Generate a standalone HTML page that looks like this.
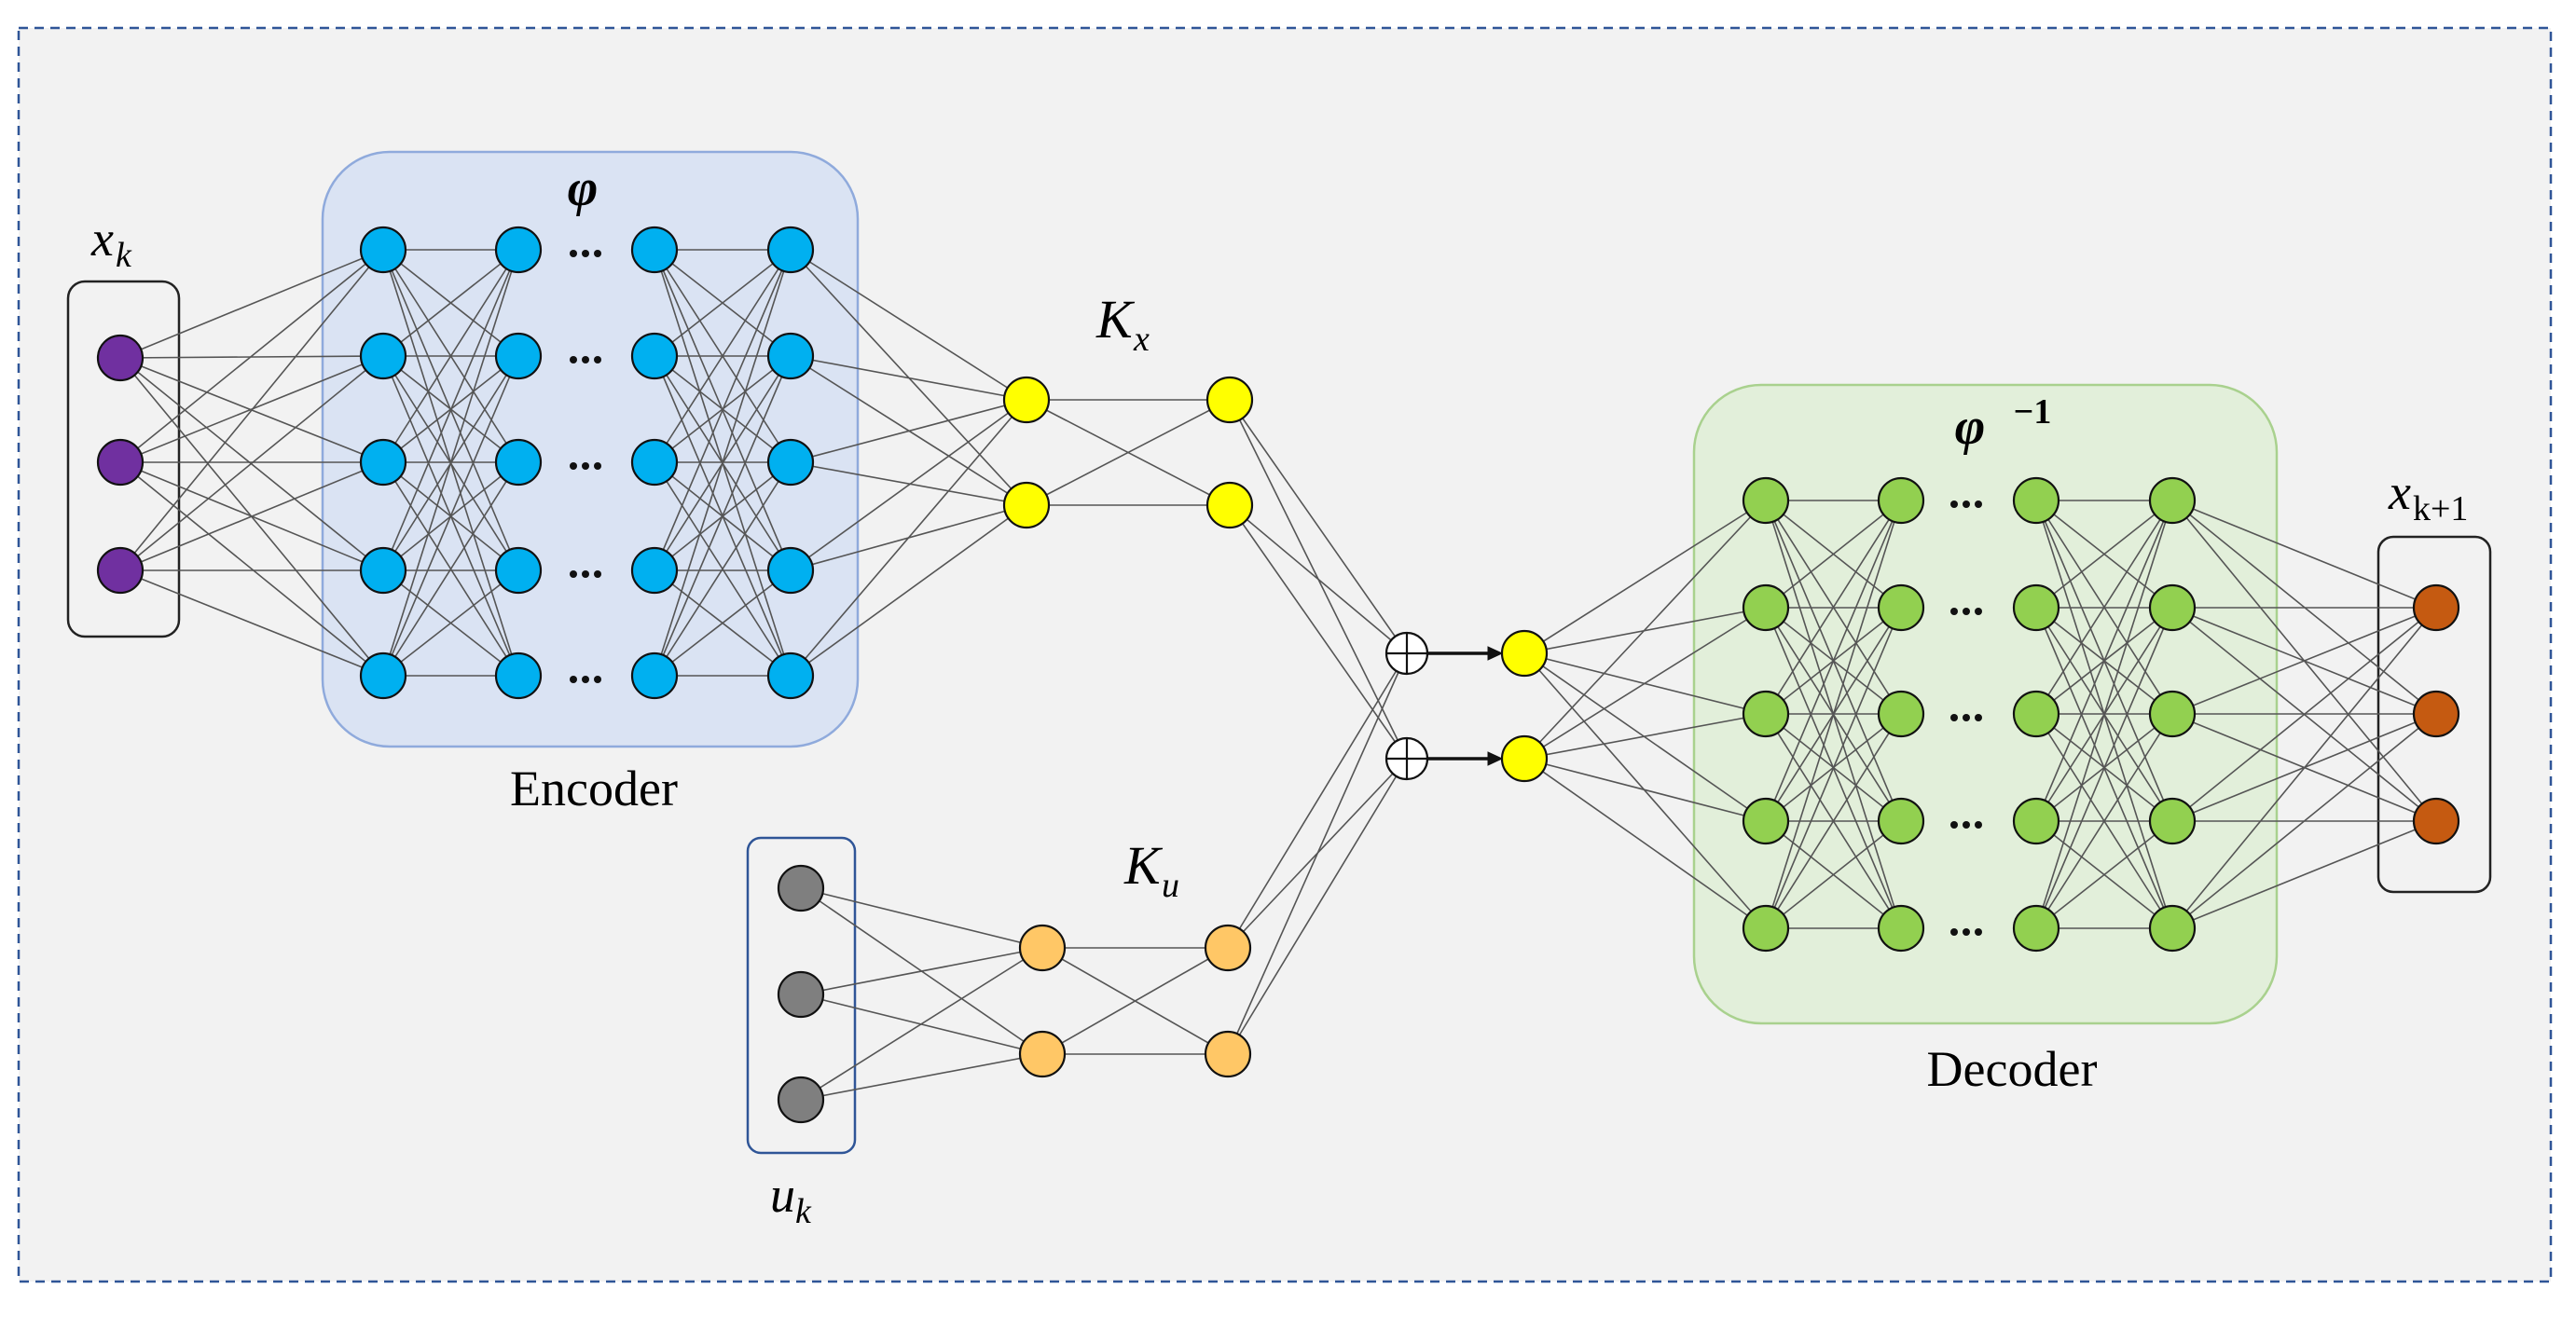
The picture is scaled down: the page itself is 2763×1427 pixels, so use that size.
<!DOCTYPE html>
<html><head><meta charset="utf-8"><style>
html,body{margin:0;padding:0;background:#fff;}
svg{display:block;}
text{font-family:"Liberation Serif",serif;fill:#000;}
</style></head><body>
<svg id="s" width="2763" height="1427" viewBox="0 0 2763 1427" xmlns="http://www.w3.org/2000/svg">
<rect x="20" y="30" width="2716" height="1345" fill="#f2f2f2" stroke="#2f5597" stroke-width="2.5" stroke-dasharray="10,7"/>
<rect x="346" y="163" width="574" height="638" rx="72" fill="#dae3f3" stroke="#8faadc" stroke-width="2.5"/>
<rect x="1817" y="413" width="625" height="685" rx="72" fill="#e2efda" stroke="#a9d18e" stroke-width="2.5"/>
<rect x="73" y="302" width="119" height="381" rx="18" fill="none" stroke="#222" stroke-width="2.5"/>
<rect x="802" y="899" width="115" height="338" rx="14" fill="none" stroke="#2f5597" stroke-width="2.5"/>
<rect x="2551" y="576" width="120" height="381" rx="16" fill="none" stroke="#222" stroke-width="2.5"/>
<g id="lines" stroke="#555" stroke-width="1.6"></g>
<g id="nodes" stroke="#111" stroke-width="2.2"></g>
<text x="625" y="220" font-size="56" font-weight="bold" font-style="italic" text-anchor="middle">φ</text>
<text x="2113" y="476" font-size="56" font-weight="bold" font-style="italic" text-anchor="middle">φ</text>
<text x="2180" y="454" font-size="38" font-weight="bold" text-anchor="middle">−1</text>
<text x="98" y="274" font-size="54" font-style="italic">x</text><text x="124" y="286" font-size="38" font-style="italic">k</text>
<text x="2562" y="546" font-size="54" font-style="italic">x</text><text x="2588" y="558" font-size="38">k+1</text>
<text x="826" y="1300" font-size="54" font-style="italic">u</text><text x="853" y="1312" font-size="38" font-style="italic">k</text>
<text x="1176" y="362" font-size="58" font-style="italic">K</text><text x="1216" y="376" font-size="38" font-style="italic">x</text>
<text x="1206" y="948" font-size="58" font-style="italic">K</text><text x="1246" y="962" font-size="38" font-style="italic">u</text>
<text x="637" y="864" font-size="54" text-anchor="middle">Encoder</text>
<text x="2158" y="1165" font-size="54" text-anchor="middle">Decoder</text>
</svg>
<script>
var NS="http://www.w3.org/2000/svg",L=document.getElementById('lines'),N=document.getElementById('nodes');
function el(p,t,a){var e=document.createElementNS(NS,t);for(var k in a)e.setAttribute(k,a[k]);p.appendChild(e);return e;}
function col(x,ys){return ys.map(function(y){return [x,y];});}
function full(A,B){A.forEach(function(a){B.forEach(function(b){el(L,'line',{x1:a[0],y1:a[1],x2:b[0],y2:b[1]});});});}
function nodes(A,c,r){A.forEach(function(a){el(N,'circle',{cx:a[0],cy:a[1],r:r||24,fill:c});});}
var eR=[268,382,496,612,725],dR=[537,652,766,881,996];
var xk=col(129,[384,496,612]);
var e1=col(411,eR),e2=col(556,eR),e3=col(702,eR),e4=col(848,eR);
var k1=col(1101,[429,542]),k2=col(1319,[429,542]);
var uk=col(859,[953,1067,1180]);
var u1=col(1118,[1017,1131]),u2=col(1317,[1017,1131]);
var pl=col(1509,[701,814]),yy=col(1635,[701,814]);
var d1=col(1894,dR),d2=col(2039,dR),d3=col(2184,dR),d4=col(2330,dR);
var out=col(2613,[652,766,881]);
full(xk,e1);full(e1,e2);full(e3,e4);full(e4,k1);full(k1,k2);full(k2,pl);
full(uk,u1);full(u1,u2);full(u2,pl);
full(yy,d1);full(d1,d2);full(d3,d4);full(d4,out);
nodes(xk,'#7030a0');nodes(e1,'#00b0f0');nodes(e2,'#00b0f0');nodes(e3,'#00b0f0');nodes(e4,'#00b0f0');
nodes(k1,'#ffff00');nodes(k2,'#ffff00');nodes(uk,'#7f7f7f');nodes(u1,'#ffc766');nodes(u2,'#ffc766');
nodes(yy,'#ffff00');nodes(d1,'#92d050');nodes(d2,'#92d050');nodes(d3,'#92d050');nodes(d4,'#92d050');nodes(out,'#c55a11');
pl.forEach(function(p){
 el(N,'circle',{cx:p[0],cy:p[1],r:22,fill:'#fff'});
 el(N,'line',{x1:p[0]-22,y1:p[1],x2:p[0]+22,y2:p[1]});
 el(N,'line',{x1:p[0],y1:p[1]-22,x2:p[0],y2:p[1]+22});
 el(N,'line',{x1:p[0]+22,y1:p[1],x2:1598,y2:p[1],'stroke-width':3.5});
 el(N,'polygon',{points:'1611,'+p[1]+' 1596,'+(p[1]-7)+' 1596,'+(p[1]+7),fill:'#111','stroke-width':1});
});
[[628,eR],[2109,dR]].forEach(function(d){d[1].forEach(function(y){for(var i=-1;i<=1;i++)el(N,'circle',{cx:d[0]+i*13,cy:y+4,r:4,fill:'#111',stroke:'none'});});});
</script>
</body></html>
